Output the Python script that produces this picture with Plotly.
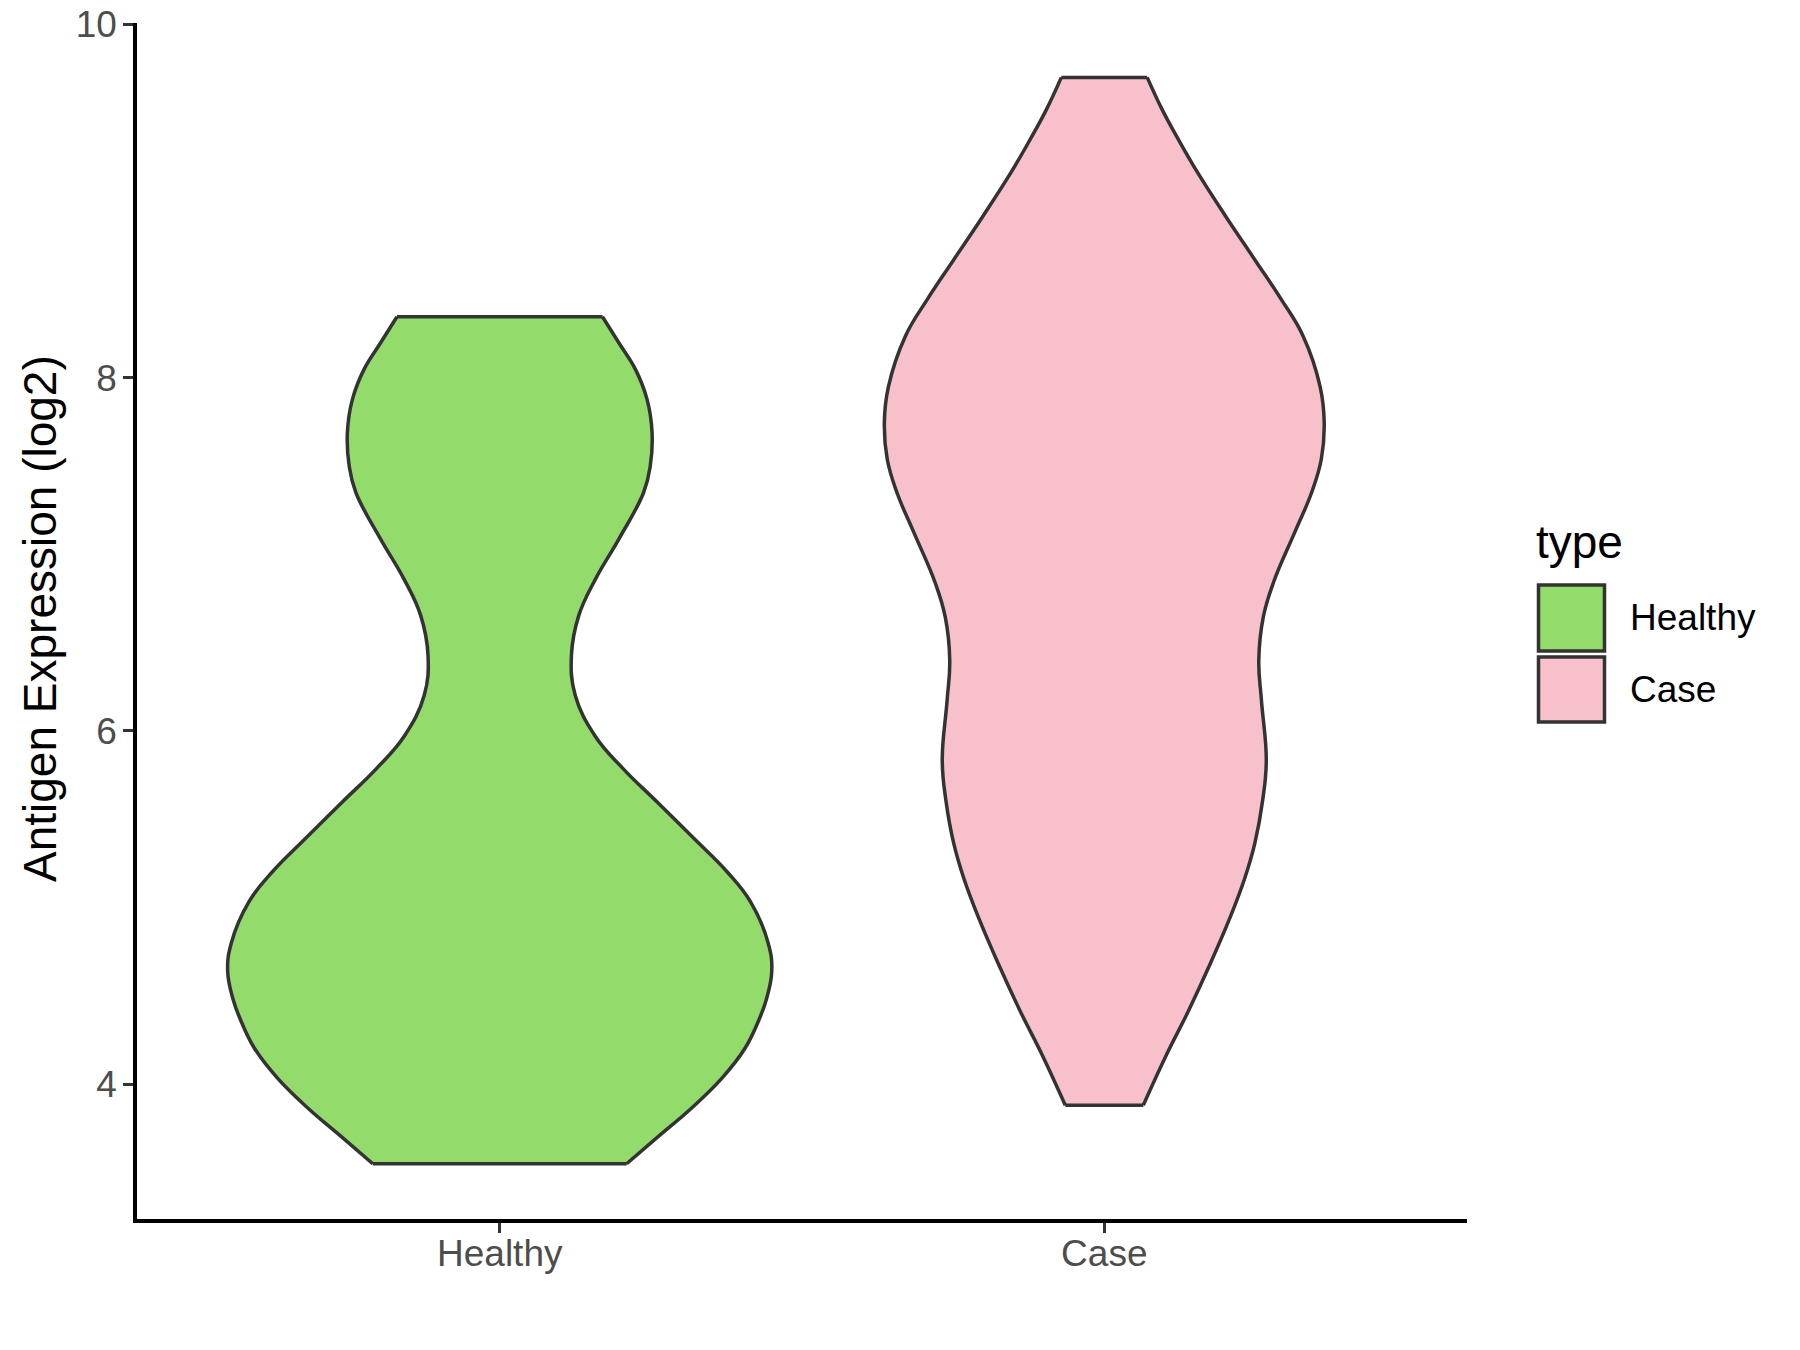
import plotly.graph_objects as go

# ---- data ----
categories = ["Healthy", "Case"]

# violin outline: y level (log2 expression) and half-width (x units)
healthy_y = [3.550, 3.706, 3.867, 4.036, 4.205, 4.375, 4.480, 4.640, 4.800, 5.034,
             5.203, 5.392, 5.599, 5.787, 5.970, 6.201, 6.427, 6.653, 6.861, 7.086,
             7.350, 7.500, 7.689, 7.877, 8.047, 8.198, 8.345]
healthy_hw = [0.210, 0.263, 0.318, 0.368, 0.406, 0.430, 0.441, 0.450, 0.444, 0.4147,
              0.376, 0.321, 0.260, 0.204, 0.158, 0.125, 0.1186, 0.1307, 0.1586, 0.197,
              0.238, 0.249, 0.252, 0.2437, 0.2245, 0.197, 0.170]

case_y = [3.881, 4.167, 4.412, 4.676, 4.940, 5.166, 5.363, 5.608, 5.834, 6.173,
          6.399, 6.644, 6.842, 7.124, 7.350, 7.538, 7.746, 7.950, 8.235, 8.442,
          8.668, 8.913, 9.158, 9.346, 9.516, 9.700]
case_hw = [0.0645, 0.1029, 0.1388, 0.1745, 0.2076, 0.2324, 0.249, 0.262, 0.268, 0.260,
           0.2556, 0.263, 0.280, 0.315, 0.343, 0.359, 0.3638, 0.357, 0.329, 0.293,
           0.249, 0.201, 0.155, 0.123, 0.096, 0.071]

y_ticks = [4, 6, 8, 10]
fill_colors = ["#93DB6B", "#F8C0CB"]
outline_color = "#333333"

# ---- layout geometry (pixels) ----
W, H = 1800, 1350
L, R, T, B = 137, 333, 23, 131
PW, PH = W - L - R, H - T - B
FONT = "Arial, Liberation Sans, sans-serif"
LW = 3.5


def px(x):
    return (x - L) / PW


def py(y):
    return (H - B - y) / PH


fig = go.Figure()

outlines = [(healthy_y, healthy_hw), (case_y, case_hw)]
for i, (cat, (ys, hws)) in enumerate(zip(categories, outlines)):
    c = i + 1
    left_x = [c - w for w in hws]
    right_x = [c + w for w in hws]
    # filled body (no stroke)
    fig.add_trace(go.Scatter(
        x=left_x + right_x[::-1], y=list(ys) + list(ys)[::-1],
        mode="lines", fill="toself", fillcolor=fill_colors[i],
        line=dict(width=0, color=fill_colors[i]),
        name=cat, showlegend=False, hoverinfo="skip",
    ))
    # smooth sides
    for xs in (left_x, right_x):
        fig.add_trace(go.Scatter(
            x=xs, y=ys, mode="lines",
            line=dict(color=outline_color, width=LW, shape="spline", smoothing=1.2),
            showlegend=False, hoverinfo="skip",
        ))
    # flat top and bottom
    fig.add_trace(go.Scatter(
        x=[left_x[0], right_x[0], None, left_x[-1], right_x[-1]],
        y=[ys[0], ys[0], None, ys[-1], ys[-1]],
        mode="lines", line=dict(color=outline_color, width=LW),
        showlegend=False, hoverinfo="skip",
    ))

axis_common = dict(
    showgrid=False, zeroline=False, showline=True, linecolor="black", linewidth=3.5,
    ticks="outside", ticklen=10, tickwidth=3, tickcolor=outline_color,
    tickfont=dict(size=37, color="#4D4D4D", family=FONT), automargin=False,
)
fig.update_layout(
    width=W, height=H,
    margin=dict(l=L, r=R, t=T, b=B, pad=0),
    paper_bgcolor="white", plot_bgcolor="white",
    font=dict(family=FONT, color="#4D4D4D"),
    xaxis=dict(range=[0.4, 2.6], tickvals=[1, 2], ticktext=categories,
               ticklabelstandoff=-11, **axis_common),
    yaxis=dict(range=[3.237, 10.008], tickvals=y_ticks,
               ticktext=[str(v) for v in y_ticks], ticklabelstandoff=-1, **axis_common),
)

annotations = [
    dict(text="Antigen Expression (log2)", xref="paper", yref="paper",
         x=px(40), y=py(619), xanchor="center", yanchor="middle", textangle=-90,
         showarrow=False, font=dict(size=46, color="black", family=FONT)),
    dict(text="type", xref="paper", yref="paper",
         x=px(1534), y=py(542), xanchor="left", yanchor="middle",
         showarrow=False, font=dict(size=46, color="black", family=FONT)),
]
shapes = []
key_boxes = [(585, 651), (657, 722)]
for i, cat in enumerate(categories):
    top, bot = key_boxes[i]
    shapes.append(dict(type="rect", xref="paper", yref="paper",
                       x0=px(1538.5), x1=px(1604.5), y0=py(bot), y1=py(top),
                       fillcolor=fill_colors[i], line=dict(color=outline_color, width=LW)))
    annotations.append(dict(text=cat, xref="paper", yref="paper",
                            x=px(1628), y=py((top + bot) / 2), xanchor="left",
                            yanchor="middle", showarrow=False,
                            font=dict(size=37, color="black", family=FONT)))

fig.update_layout(annotations=annotations, shapes=shapes)

fig.write_html("out.html", config={"displayModeBar": False},
               post_script="document.body.style.margin='0';")
